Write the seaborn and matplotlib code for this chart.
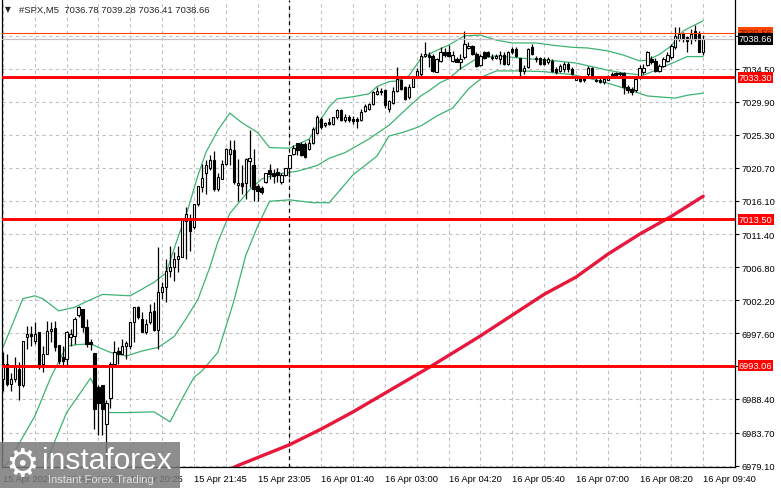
import numpy as np
import pandas as pd
import seaborn as sns
import matplotlib.pyplot as plt
import matplotlib.transforms as mtransforms
from matplotlib.patches import Rectangle

# ---------------- data (M5 candles, bar index 0..176) ----------------
opens = [6991.2, 6993.3, 6990.5, 6991.2, 6992.6, 6990.3, 6997.0, 6997.4, 6996.5, 6997.7,
         6993.3, 6994.7, 6997.9, 6998.3, 6996.0, 6994.2, 6994.0, 6997.0, 6997.2, 7000.1,
         7001.0, 6998.4, 6996.3, 6994.8, 6990.0, 6990.3, 6984.9, 6988.6, 6993.3, 6995.1,
         6994.7, 6995.8, 6995.8, 6999.1, 7001.2, 6999.6, 6997.7, 6999.1, 7000.7, 6998.0,
         7003.3, 7004.0, 7006.3, 7006.8, 7007.9, 7008.2, 7013.2, 7013.5, 7012.4, 7015.6,
         7018.0, 7020.0, 7020.7, 7021.7, 7017.7, 7019.1, 7021.2, 7022.6, 7023.1, 7018.3,
         7018.6, 7018.6, 7021.6, 7021.0, 7018.2, 7017.8, 7018.7, 7020.3, 7020.0, 7020.1,
         7018.7, 7019.7, 7020.7, 7022.6, 7024.2, 7024.0, 7024.0, 7023.3, 7024.2, 7025.6,
         7027.5, 7026.6, 7027.0, 7026.8, 7027.7, 7028.7, 7027.4, 7027.7, 7027.5, 7027.5,
         7027.3, 7028.6, 7028.9, 7029.6, 7031.0, 7031.4, 7031.5, 7028.9, 7029.7, 7031.4,
         7032.9, 7031.9, 7030.5, 7032.0, 7033.5, 7033.8, 7036.3, 7036.4, 7036.3, 7034.1,
         7035.6, 7036.8, 7036.9, 7035.6, 7035.9, 7035.5, 7036.1, 7037.4, 7037.7, 7036.6,
         7035.0, 7036.8, 7036.8, 7036.0, 7036.0, 7035.9, 7036.4, 7035.2, 7037.3, 7037.2,
         7036.0, 7034.2, 7034.7, 7037.5, 7036.0, 7036.0, 7035.9, 7035.4, 7035.6, 7034.5,
         7034.2, 7034.5, 7035.1, 7034.5, 7033.0, 7033.3, 7033.2, 7033.8, 7034.6, 7033.0,
         7033.0, 7032.7, 7033.0, 7033.6, 7033.9, 7033.7, 7033.9, 7031.9, 7031.7, 7031.5,
         7033.3, 7034.0, 7035.0, 7035.9, 7035.6, 7034.2, 7034.9, 7035.6, 7036.1, 7037.5,
         7038.7, 7039.4, 7038.9, 7038.7, 7039.8, 7039.4, 7036.78]
highs = [6994.9, 6994.7, 6992.0, 6994.2, 6993.5, 6996.5, 6998.6, 6998.6, 6999.1, 6997.7,
         6995.8, 6999.3, 6999.1, 6999.3, 6996.0, 6995.8, 6997.9, 6998.2, 6999.8, 7001.4,
         7001.0, 6999.6, 6996.8, 6994.8, 6990.3, 6990.3, 6988.2, 6993.5, 6996.5, 6995.6,
         6996.8, 6996.5, 6999.1, 7001.2, 7001.4, 7000.5, 6999.6, 7001.7, 7001.9, 7009.6,
         7004.7, 7007.9, 7009.8, 7008.9, 7009.8, 7013.5, 7015.2, 7014.2, 7015.6, 7018.2,
         7021.2, 7021.7, 7022.4, 7023.0, 7019.9, 7021.7, 7023.5, 7024.5, 7024.5, 7021.9,
         7021.0, 7022.1, 7025.9, 7023.3, 7018.4, 7018.2, 7020.0, 7021.2, 7020.5, 7020.6,
         7020.0, 7020.7, 7022.4, 7023.8, 7024.2, 7024.3, 7024.3, 7024.7, 7026.3, 7028.1,
         7027.7, 7027.1, 7027.6, 7027.8, 7028.9, 7028.9, 7028.2, 7028.0, 7027.9, 7027.8,
         7028.9, 7029.6, 7029.7, 7031.4, 7032.0, 7031.8, 7031.7, 7030.2, 7031.9, 7034.7,
         7033.1, 7032.1, 7032.4, 7033.5, 7034.6, 7036.7, 7038.2, 7036.8, 7036.5, 7036.0,
         7037.5, 7037.4, 7037.8, 7037.0, 7036.2, 7036.6, 7039.8, 7038.2, 7037.8, 7036.8,
         7036.5, 7037.0, 7037.0, 7036.6, 7036.6, 7037.0, 7036.8, 7037.0, 7037.5, 7037.5,
         7036.0, 7035.0, 7037.4, 7038.0, 7036.3, 7036.2, 7036.2, 7036.1, 7035.9, 7034.7,
         7035.2, 7035.4, 7035.5, 7034.7, 7033.5, 7033.4, 7033.4, 7034.9, 7034.7, 7033.3,
         7033.2, 7033.2, 7033.6, 7034.0, 7034.1, 7034.0, 7034.0, 7032.2, 7032.0, 7033.3,
         7035.0, 7035.2, 7037.0, 7036.3, 7036.0, 7035.2, 7036.1, 7036.8, 7038.0, 7040.3,
         7040.3, 7039.6, 7039.1, 7040.1, 7040.6, 7039.8, 7039.28]
lows = [6989.5, 6990.2, 6989.5, 6990.7, 6988.2, 6990.0, 6995.4, 6995.8, 6996.1, 6992.6,
        6992.1, 6994.7, 6996.3, 6995.1, 6993.3, 6993.0, 6993.0, 6995.8, 6996.1, 6999.8,
        6997.7, 6995.6, 6995.3, 6984.2, 6983.3, 6983.3, 6980.0, 6987.2, 6993.1, 6993.3,
        6994.7, 6994.0, 6995.4, 6996.3, 6999.6, 6997.7, 6997.5, 6998.9, 6997.9, 6995.4,
        7002.4, 7002.0, 7005.4, 7004.9, 7006.1, 7008.2, 7008.0, 7009.1, 7012.1, 7015.4,
        7017.3, 7017.0, 7020.3, 7017.5, 7017.5, 7019.1, 7021.0, 7021.0, 7018.4, 7016.1,
        7017.0, 7016.3, 7018.0, 7016.1, 7016.1, 7017.0, 7018.6, 7019.1, 7018.6, 7018.7,
        7018.4, 7019.5, 7019.4, 7022.4, 7022.4, 7022.3, 7022.1, 7023.1, 7024.0, 7025.4,
        7026.1, 7026.3, 7026.6, 7026.6, 7027.5, 7027.2, 7027.0, 7027.0, 7026.8, 7026.2,
        7027.2, 7028.4, 7028.7, 7029.4, 7030.8, 7030.8, 7029.0, 7028.5, 7029.6, 7031.2,
        7031.5, 7030.1, 7030.3, 7031.9, 7033.3, 7033.5, 7036.1, 7034.7, 7034.0, 7034.0,
        7035.4, 7036.1, 7036.2, 7035.4, 7035.4, 7034.5, 7035.9, 7037.3, 7036.4, 7034.8,
        7034.9, 7035.9, 7036.1, 7035.7, 7035.9, 7035.2, 7035.0, 7035.0, 7036.6, 7036.1,
        7033.5, 7033.8, 7034.6, 7036.4, 7035.5, 7035.0, 7035.0, 7035.2, 7034.0, 7033.8,
        7034.0, 7034.0, 7034.1, 7033.6, 7032.9, 7032.6, 7032.6, 7033.5, 7033.3, 7032.6,
        7032.5, 7032.4, 7032.9, 7033.4, 7033.3, 7033.4, 7031.0, 7031.1, 7030.8, 7031.2,
        7033.1, 7033.8, 7034.9, 7035.2, 7034.1, 7034.1, 7034.7, 7035.4, 7035.9, 7037.3,
        7038.4, 7038.2, 7036.8, 7037.9, 7038.4, 7036.8, 7036.41]
closes = [6993.3, 6990.5, 6991.2, 6992.8, 6990.3, 6996.5, 6997.5, 6997.2, 6997.5, 6992.8,
          6994.7, 6997.9, 6998.2, 6995.6, 6993.7, 6993.7, 6997.7, 6997.5, 6999.6, 7001.2,
          6998.4, 6996.1, 6996.1, 6987.0, 6987.9, 6987.0, 6987.9, 6993.3, 6994.9, 6994.7,
          6995.8, 6996.2, 6999.1, 7001.2, 6999.8, 6997.7, 6998.9, 7000.5, 6998.0, 7003.3,
          7004.0, 7006.3, 7006.8, 7007.9, 7008.4, 7013.5, 7014.2, 7011.9, 7015.6, 7018.1,
          7019.3, 7021.0, 7021.7, 7017.7, 7019.4, 7021.2, 7023.3, 7023.3, 7018.7, 7018.6,
          7018.1, 7021.9, 7022.0, 7017.7, 7017.5, 7017.3, 7019.9, 7019.8, 7019.5, 7019.7,
          7019.7, 7020.7, 7022.4, 7023.5, 7023.1, 7022.4, 7022.2, 7024.2, 7026.1, 7027.7,
          7026.3, 7026.9, 7026.8, 7027.7, 7028.7, 7027.3, 7027.7, 7027.4, 7027.2, 7027.2,
          7028.4, 7029.3, 7029.6, 7031.2, 7031.4, 7031.2, 7029.5, 7030.0, 7031.4, 7033.1,
          7031.7, 7030.3, 7032.0, 7033.5, 7034.2, 7036.3, 7036.5, 7036.2, 7034.2, 7035.8,
          7036.9, 7036.4, 7036.3, 7036.4, 7035.5, 7035.9, 7037.9, 7037.7, 7036.6, 7034.9,
          7036.3, 7036.0, 7036.3, 7036.2, 7036.3, 7036.4, 7035.2, 7036.9, 7036.8, 7036.3,
          7034.2, 7034.6, 7037.2, 7036.6, 7035.8, 7035.2, 7035.2, 7035.9, 7034.2, 7034.1,
          7034.9, 7035.1, 7034.4, 7033.8, 7033.3, 7032.8, 7032.9, 7034.6, 7033.6, 7032.8,
          7032.7, 7033.1, 7033.5, 7033.8, 7033.6, 7033.9, 7031.9, 7031.5, 7031.2, 7033.1,
          7034.6, 7034.6, 7036.9, 7035.4, 7034.2, 7034.9, 7035.9, 7036.4, 7037.7, 7039.1,
          7039.4, 7038.7, 7038.4, 7039.4, 7038.7, 7036.8, 7038.66]

# Bollinger bands (20, 2) at the bars listed
upper_idx = [0, 5, 8, 10, 14, 18, 21, 25, 32, 38, 41, 44, 46, 49, 51, 54, 57, 60, 64,
             67, 72, 77, 80, 82, 84, 88, 92, 94, 97, 99, 102, 105, 108, 112, 116, 120,
             124, 128, 134, 138, 143, 147, 152, 156, 160, 162, 165, 168, 171, 176]
upper_vals = [6995.6, 7002.4, 7002.8, 7002.4, 7000.7, 7001.2, 7002.0, 7003.0, 7002.8, 7004.7,
              7006.0, 7011.0, 7014.0, 7019.6, 7022.8, 7025.9, 7028.3, 7027.0, 7025.6,
              7023.5, 7023.4, 7024.7, 7027.5, 7029.2, 7030.3, 7030.6, 7031.0, 7032.0,
              7032.7, 7032.8, 7033.5, 7035.9, 7036.8, 7037.8, 7039.1, 7039.2, 7038.5,
              7038.1, 7038.1, 7037.8, 7037.5, 7037.4, 7037.0, 7036.4, 7035.6, 7035.7,
              7036.5, 7037.7, 7039.8, 7041.2]
mid_idx = [0, 2, 8, 12, 16, 19, 22, 24, 27, 31, 35, 39, 43, 46, 49, 52, 54, 57, 62, 65,
           69, 74, 79, 82, 86, 92, 97, 102, 105, 107, 110, 112, 115, 119, 124, 132, 139,
           144, 152, 156, 161, 167, 172, 176]
mid_vals = [6978.6, 6980.2, 6986.0, 6991.4, 6995.8, 6996.0, 6996.1, 6995.6, 6994.9, 6994.4,
            6995.1, 6995.6, 6997.1, 6999.6, 7002.3, 7006.8, 7010.3, 7014.3, 7017.6, 7019.1,
            7019.8, 7020.2, 7021.0, 7022.0, 7022.8, 7024.7, 7026.6, 7029.2, 7030.7, 7031.4,
            7032.6, 7033.1, 7034.5, 7035.9, 7036.3, 7035.9, 7035.6, 7035.3, 7034.3, 7033.9,
            7033.6, 7035.0, 7036.2, 7036.2]
lower_idx = [0, 4, 8, 11, 16, 22, 23, 26, 31, 38, 42, 45, 48, 50, 54, 58, 61, 64, 67, 72,
             78, 82, 88, 94, 97, 101, 105, 109, 113, 117, 121, 124, 130, 136, 139, 143,
             147, 152, 156, 162, 169, 172, 176]
lower_vals = [6962.0, 6965.0, 6972.0, 6979.8, 6986.5, 6991.3, 6990.2, 6986.5, 6986.5, 6986.6,
              6985.2, 6988.4, 6991.4, 6992.3, 6994.9, 7002.0, 7008.4, 7012.5, 7016.0, 7016.2,
              7015.8, 7015.8, 7019.7, 7022.3, 7025.1, 7025.7, 7026.5, 7027.9, 7029.0, 7031.7,
              7033.5, 7034.2, 7034.2, 7034.1, 7033.9, 7033.7, 7033.2, 7032.5, 7031.8, 7030.7,
              7030.4, 7030.8, 7031.1]

# slow moving average (thick red)
ma_idx = [56, 59, 72, 80, 88, 96, 108, 120, 136, 144, 152, 160, 168, 176]
ma_vals = [6978.3, 6979.1, 6982.0, 6984.2, 6986.6, 6989.2, 6993.1, 6997.2, 7003.0, 7005.4,
           7008.6, 7011.4, 7013.9, 7016.7]

levels = [7033.30, 7013.50, 6993.06]
ask, bid = 7039.56, 7038.66
ytick_vals = [6979.10, 6983.70, 6988.40, 6993.00, 6997.60, 7002.20, 7006.80, 7011.40,
              7016.10, 7020.70, 7025.30, 7029.90, 7034.50, 7039.10]
hidden_ticks = [6993.00, 7039.10]   # covered by the price labels
xtick_labels = ["15 Apr 2026", "15 Apr 19:05", "15 Apr 20:25", "15 Apr 21:45", "15 Apr 23:05",
                "16 Apr 01:40", "16 Apr 03:00", "16 Apr 04:20", "16 Apr 05:40", "16 Apr 07:00",
                "16 Apr 08:20", "16 Apr 09:40"]
day_sep = 72

# ---------------- plot ----------------
sns.set_style("white")
plt.rcParams['font.family'] = ['Liberation Sans', 'DejaVu Sans']

fig = plt.figure(figsize=(7.81, 4.89), dpi=100)
ax = fig.add_axes([2 / 781, 21 / 489, 733 / 781, 467 / 489])

grid_kw = dict(color="#c0c0c0", linestyle=(0, (3, 3)), linewidth=0.8)

df = pd.DataFrame({"o": opens, "h": highs, "l": lows, "c": closes})
df["i"] = np.arange(len(df))
up = df["c"] >= df["o"]
body_lo = df[["o", "c"]].min(axis=1)
body_h = (df["c"] - df["o"]).abs().clip(lower=0.08)

# bands and MA
for bx, by in ((upper_idx, upper_vals), (mid_idx, mid_vals), (lower_idx, lower_vals)):
    sns.lineplot(x=bx, y=by, ax=ax, color="#3cb371", linewidth=0.9, zorder=2)
sns.lineplot(x=ma_idx, y=ma_vals, ax=ax, color="#e8173c", linewidth=2.4, zorder=2)

# candles
ax.vlines(df["i"], df["l"], df["h"], color="black", linewidth=0.9, zorder=3)
ax.bar(df["i"], body_h, bottom=body_lo, width=0.58,
       color=np.where(up, "white", "black"), edgecolor="black", linewidth=0.8, zorder=4)

# horizontal levels
for lv in levels:
    ax.axhline(lv, color="#ff0000", linewidth=2.1, zorder=5)
ax.axhline(ask, color="#ff4500", linewidth=0.8, zorder=5)
ax.axhline(bid, color="#c0c0c0", linewidth=0.9, zorder=5)
ax.axvline(day_sep, color="black", linestyle=(0, (3, 3)), linewidth=0.9, zorder=1)

# axes
ax.set_xlim(-0.25, 183)
ax.set_ylim(6978.9, 7044.1)
ax.set_xticks(np.arange(0, 177, 16))
ax.set_xticklabels(xtick_labels)
ax.set_xticks(np.arange(8, 185, 16), minor=True)
ax.set_yticks(ytick_vals)
ax.set_yticklabels(["" if v in hidden_ticks else f"{v:.2f}" for v in ytick_vals])
ax.yaxis.tick_right()
ax.grid(True, which="both", **grid_kw)
ax.set_axisbelow(True)
ax.tick_params(axis="both", which="major", direction="out", length=3, width=0.8,
               color="black", labelsize=6.7, labelcolor="black", pad=2)
ax.tick_params(axis="x", which="minor", length=0)
for lab in ax.get_xticklabels():
    lab.set_horizontalalignment("left")
for side in ("left", "right", "bottom"):
    ax.spines[side].set_visible(True)
    ax.spines[side].set_color("black")
    ax.spines[side].set_linewidth(0.9)
ax.spines["top"].set_visible(False)
ax.set_xlabel("")
ax.set_ylabel("")

# price labels on the right scale
trans = mtransforms.blended_transform_factory(ax.transAxes, ax.transData)
ax.text(1.005, ask, f"{ask:.2f}", transform=trans, color="#7a1a00", fontsize=6.7,
        va="center", ha="left", clip_on=False, zorder=10,
        bbox=dict(boxstyle="square,pad=0.12", fc="#ff4500", ec="none"))
ax.text(1.005, bid, f"{bid:.2f}", transform=trans, color="white", fontsize=6.7,
        va="center", ha="left", clip_on=False, zorder=11,
        bbox=dict(boxstyle="square,pad=0.12", fc="black", ec="none"))
for lv in levels:
    ax.text(1.005, lv, f"{lv:.2f}", transform=trans, color="white", fontsize=6.7,
            va="center", ha="left", clip_on=False, zorder=10,
            bbox=dict(boxstyle="square,pad=0.12", fc="#ff0000", ec="none"))

# header
fig.text(5 / 781, 1 - 10 / 489, "\u25bc", fontsize=5.5, va="center", ha="left",
         family="DejaVu Sans")
fig.text(19 / 781, 1 - 10 / 489, "#SPX,M5  7036.78 7039.28 7036.41 7038.66",
         fontsize=6.8, va="center", ha="left")

# watermark
fig.patches.append(Rectangle((0, 0), 180 / 781, 46 / 489, transform=fig.transFigure,
                             facecolor="#7a7a7a", alpha=0.85, edgecolor="none", zorder=20))
fig.text(22 / 781, 23 / 489, "\u2699", fontsize=27, color="white", ha="center",
         va="center", family="DejaVu Sans", zorder=21)
fig.text(42 / 781, 28 / 489, "instaforex", fontsize=21.5, color="white", ha="left",
         va="center", zorder=21)
fig.text(48 / 781, 9 / 489, "Instant Forex Trading", fontsize=8, color="#e0e0e0",
         ha="left", va="center", zorder=21)

fig.savefig("out.png", dpi=100)
